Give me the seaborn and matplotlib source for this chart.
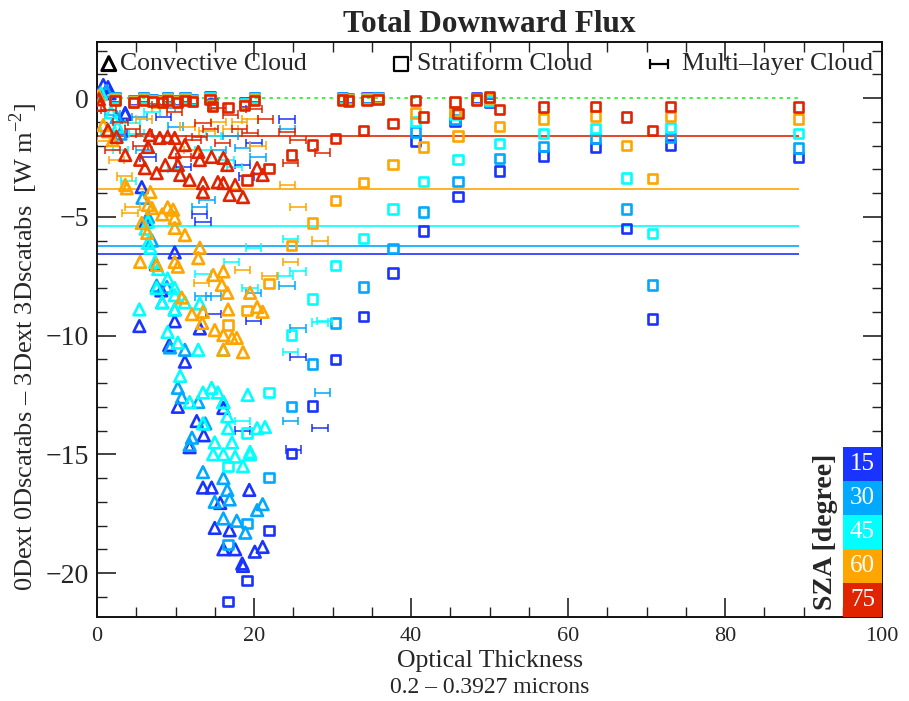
import numpy as np
import pandas as pd
import matplotlib
matplotlib.use("Agg")
import matplotlib.pyplot as plt
from matplotlib.path import Path
from matplotlib.patches import Rectangle
import seaborn as sns

# ---------------- data ----------------
sza_levels = [15, 30, 45, 60, 75]
sza_colors = ['#1a34ff', '#00a8ff', '#00ffff', '#ffa500', '#e02400']
mean_lines = [-6.57, -6.23, -5.39, -3.83, -1.60]   # per SZA
zero_line_end = 89.4

# Convective cloud (triangles)
conv_x_15 = [0.8, 1.6, 3.6, 5.7, 9.9, 5.4, 9.2, 9.9, 11.2, 13.1, 10.3, 16.1, 12.7, 13.6, 11.8, 13.5, 14.6, 15.7, 15.0, 16.9, 19.4, 16.1, 17.6, 20.1, 21.1, 18.5, 18.6, 7.5, 8.2, 6.2, 1.4, 3.6]
conv_y_15 = [0.55, 0.2, -0.63, -3.75, -6.5, -9.6, -10.4, -9.4, -11.1, -9.7, -13.0, -13.05, -13.6, -14.2, -14.7, -16.4, -16.4, -17.05, -18.1, -18.2, -16.5, -19.0, -19.0, -19.1, -18.9, -19.6, -19.7, -7.0, -8.1, -5.2, 0.46, -0.67]
conv_x_30 = [1.2, 2.5, 3.0, 7.6, 8.9, 8.3, 9.9, 9.3, 11.2, 10.3, 10.8, 12.9, 13.8, 16.1, 12.1, 11.8, 13.5, 16.1, 16.6, 15.0, 16.9, 20.4, 21.1, 16.1, 17.8, 18.9, 6.5, 7.0, 5.8]
conv_y_30 = [0.3, -0.8, -1.5, -7.9, -7.95, -8.6, -8.9, -10.5, -10.6, -12.2, -12.6, -12.8, -13.7, -12.8, -14.3, -14.6, -15.75, -16.0, -16.5, -17.0, -16.9, -17.35, -17.1, -17.7, -17.8, -18.3, -5.0, -6.0, -4.2]
conv_x_45 = [0.5, 1.8, 2.6, 6.5, 6.2, 6.5, 6.8, 7.4, 7.8, 9.0, 9.9, 7.6, 5.4, 8.3, 9.9, 11.2, 9.9, 13.1, 9.0, 10.3, 12.9, 16.1, 10.6, 13.5, 14.6, 15.4, 19.2, 11.8, 16.1, 16.6, 16.7, 20.4, 21.4, 13.5, 15.0, 17.2, 19.5, 14.8, 16.1, 17.6, 18.6, 19.5]
conv_y_45 = [0.2, -0.6, -1.2, -5.2, -5.5, -6.1, -6.3, -6.9, -7.2, -7.6, -8.0, -8.0, -8.9, -8.6, -8.3, -8.6, -8.9, -8.65, -9.85, -10.3, -10.6, -10.6, -11.7, -12.4, -12.2, -12.4, -12.5, -12.8, -12.8, -13.4, -13.9, -13.9, -13.85, -13.7, -14.5, -14.5, -14.9, -15.0, -15.0, -15.1, -15.5, -15.0]
conv_x_60 = [0.2, 0.8, 1.4, 2.0, 3.6, 3.8, 6.8, 6.5, 7.0, 9.0, 9.7, 8.3, 9.9, 9.9, 5.7, 6.4, 11.2, 13.1, 12.9, 5.5, 7.6, 9.9, 10.3, 14.8, 16.1, 15.9, 16.6, 19.5, 10.8, 16.7, 20.4, 21.1, 12.1, 13.5, 13.4, 15.0, 16.1, 17.2, 17.8, 18.6, 16.1]
conv_y_60 = [0.1, -1.14, -1.4, -1.77, -3.66, -3.8, -3.96, -4.5, -4.63, -4.6, -4.7, -4.9, -5.05, -5.47, -5.26, -5.68, -5.77, -6.3, -6.74, -6.9, -7.03, -6.9, -7.1, -7.45, -7.3, -7.87, -8.2, -8.2, -8.4, -8.9, -8.8, -9.0, -9.1, -9.0, -9.47, -9.77, -9.98, -10.1, -10.1, -10.7, -10.6]
conv_x_75 = [0.25, 0.4, 1.4, 2.5, 3.6, 5.5, 6.1, 6.75, 6.5, 8.0, 9.0, 9.9, 11.2, 9.9, 8.7, 7.6, 10.3, 10.6, 11.8, 12.9, 13.1, 13.5, 13.5, 14.6, 15.4, 16.1, 16.6, 16.1, 16.9, 17.6, 18.6, 20.4, 21.1]
conv_y_75 = [-0.05, -0.29, -1.35, -1.64, -2.4, -2.6, -2.95, -1.56, -2.06, -1.68, -1.64, -1.68, -1.98, -2.27, -2.82, -3.16, -2.82, -3.24, -3.45, -2.27, -2.61, -3.58, -3.96, -2.48, -3.54, -2.52, -2.82, -3.58, -4.08, -3.66, -4.17, -2.95, -3.24]

# Stratiform cloud (squares): one optical thickness per case, one value per SZA
strat_x = [2.3, 4.6, 5.9, 7.1, 8.3, 9.0, 10.3, 11.2, 12.2, 14.4, 14.7, 18.8, 20.1,
           16.7, 19.1, 21.9, 24.8, 27.5, 30.4, 33.9, 37.7, 41.6, 46.0, 51.3, 56.9, 63.5, 67.5, 70.8, 73.1, 89.4,
           31.3, 32.0, 34.4, 35.8, 40.6, 45.6, 48.3, 50.0]
strat_y_15 = [0.02, -0.1, 0.02, -0.05, -0.1, 0.02, -0.1, 0.02, -0.05, 0.05, -0.25, -0.2, 0.02,
              -21.2, -20.3, -18.2, -14.95, -12.97, -11.0, -9.2, -7.37, -5.6, -4.15, -3.07, -2.44, -2.07, -5.5, -9.3, -1.98, -2.5,
              0.02, -0.02, 0.0, 0.03, -1.81, -1.0, 0.0, -0.2]
strat_y_30 = [0.0, -0.12, 0.0, -0.07, -0.12, 0.0, -0.12, 0.0, -0.07, 0.03, -0.27, -0.22, 0.0,
              -18.8, -17.9, -15.96, -13.0, -11.2, -9.47, -7.96, -6.35, -4.8, -3.5, -2.56, -2.05, -1.7, -4.67, -7.87, -1.65, -2.1,
              0.0, -0.04, -0.02, 0.01, -1.43, -0.9, -0.04, -0.15]
strat_y_45 = [-0.03, -0.15, -0.03, -0.1, -0.15, -0.03, -0.15, -0.03, -0.1, 0.0, -0.3, -0.25, -0.03,
              -15.5, -14.1, -12.4, -9.98, -8.46, -7.05, -5.9, -4.67, -3.5, -2.6, -1.9, -1.48, -1.27, -3.37, -5.7, -1.24, -1.5,
              -0.03, -0.06, -0.04, -0.01, -1.0, -0.7, -0.05, -0.1]
strat_y_60 = [-0.06, -0.17, -0.06, -0.12, -0.17, -0.06, -0.17, -0.06, -0.12, -0.03, -0.32, -0.27, -0.06,
              -9.56, -8.96, -7.8, -6.2, -5.26, -4.3, -3.57, -2.8, -2.06, -1.6, -1.2, -0.88, -0.76, -2.0, -3.4, -0.77, -0.88,
              -0.05, -0.08, -0.06, -0.03, -0.63, -0.58, -0.07, -0.02]
strat_y_75 = [-0.1, -0.2, -0.1, -0.15, -0.2, -0.1, -0.2, -0.1, -0.15, -0.05, -0.35, -0.3, -0.1,
              -0.4, -3.45, -2.95, -2.4, -1.98, -1.7, -1.38, -1.06, -0.8, -0.65, -0.47, -0.38, -0.34, -0.8, -1.38, -0.34, -0.38,
              -0.08, -0.12, -0.1, -0.05, -0.1, -0.17, -0.08, 0.04]

# Multi-layer cloud
ml_x_15 = [2.8, 6.5, 13.1, 13.5, 18.5, 19.0, 20.0, 24.2, 14.8, 19.9, 25.6, 18.5, 28.4, 25.0, 8.5, 11.0]
ml_y_15 = [-1.5, -2.5, -4.9, -5.2, -2.8, -3.3, -1.9, -0.9, -9.1, -9.4, -10.9, -14.0, -13.9, -14.8, -0.8, -2.9]
ml_x_30 = [2.0, 5.4, 13.1, 14.0, 15.5, 17.0, 18.5, 20.5, 24.3, 13.5, 14.8, 19.9, 24.2, 25.6, 28.7, 24.6, 6.0, 10.0, 9.0]
ml_y_30 = [-0.7, -0.8, -4.6, -4.3, -2.2, -1.6, -2.1, -2.5, -1.3, -8.35, -8.35, -8.2, -7.9, -9.7, -12.4, -13.6, -2.2, -1.2, -0.4]
ml_x_45 = [1.5, 3.0, 4.5, 5.0, 7.0, 13.5, 14.8, 16.5, 17.5, 19.9, 24.6, 25.6, 13.5, 17.1, 19.5, 28.4, 24.6, 18.5, 24.0, 29.0, 10.0, 4.0]
ml_y_45 = [-1.4, -2.2, -1.05, -1.5, -0.6, -2.2, -1.6, -2.6, -2.9, -6.3, -5.94, -7.3, -7.4, -6.9, -8.0, -9.45, -10.7, -13.6, -7.5, -9.4, -3.0, -3.5]
ml_x_60 = [1.0, 2.5, 4.2, 4.5, 3.5, 8.0, 11.5, 14.0, 15.5, 17.0, 18.2, 19.5, 24.3, 25.6, 28.4, 24.6, 18.5, 13.3, 20.5, 12.0, 6.0, 22.0]
ml_y_60 = [-1.8, -2.6, -4.84, -4.6, -3.3, -0.4, -1.2, -1.4, -1.0, -1.3, -1.0, -0.9, -3.66, -4.6, -6.0, -6.9, -7.24, -7.8, -2.0, -2.2, -0.9, -7.5]
ml_x_75 = [1.5, 3.0, 4.5, 6.0, 9.9, 13.5, 13.1, 12.3, 15.5, 17.0, 18.2, 19.5, 21.5, 24.2, 25.6, 28.7, 24.6, 2.0, 5.5, 8.0, 16.0, 11.0, 14.5, 20.0]
ml_y_75 = [-0.5, -1.0, -1.3, -1.5, -0.6, -1.05, -1.64, -1.75, -0.4, -0.7, -1.3, -1.47, -0.9, -1.43, -1.77, -2.3, -2.74, -2.2, -2.0, -0.3, -1.9, -2.5, -1.3, -0.45]

conv_x = [conv_x_15, conv_x_30, conv_x_45, conv_x_60, conv_x_75]
conv_y = [conv_y_15, conv_y_30, conv_y_45, conv_y_60, conv_y_75]
strat_y = [strat_y_15, strat_y_30, strat_y_45, strat_y_60, strat_y_75]
ml_x = [ml_x_15, ml_x_30, ml_x_45, ml_x_60, ml_x_75]
ml_y = [ml_y_15, ml_y_30, ml_y_45, ml_y_60, ml_y_75]

# ---------------- style ----------------
sns.set_theme(style="ticks")
SERIF = ['Liberation Serif', 'DejaVu Serif']
plt.rcParams['font.family'] = SERIF
plt.rcParams['mathtext.fontset'] = 'custom'
plt.rcParams['mathtext.rm'] = 'Liberation Serif'

ml_marker = Path([(-1, 0), (1, 0), (-1, -0.55), (-1, 0.55), (1, -0.55), (1, 0.55)],
                 [Path.MOVETO, Path.LINETO, Path.MOVETO, Path.LINETO, Path.MOVETO, Path.LINETO])

fig = plt.figure(figsize=(9.09, 7.01), dpi=100)
ax = fig.add_axes([97/909, 84/701, 785/909, 575/701])

# reference lines
ax.hlines(0, 0, zero_line_end, colors='#22ee22', linestyles=(0, (2, 2.5)), linewidth=1.2, zorder=1)
for c, m in zip(sza_colors, mean_lines):
    ax.hlines(m, 0, zero_line_end, colors=c, linewidth=1.4, alpha=0.85, zorder=1)

for i, (sza, c) in enumerate(zip(sza_levels, sza_colors)):
    sns.scatterplot(x=strat_x, y=strat_y[i], marker='s', s=44, facecolors='none',
                    edgecolor=c, linewidth=1.9, ax=ax, legend=False, zorder=3)
    sns.scatterplot(x=conv_x[i], y=conv_y[i], marker='^', s=70, facecolors='none',
                    edgecolor=c, linewidth=1.9, ax=ax, legend=False, zorder=3)
    sns.scatterplot(x=ml_x[i], y=ml_y[i], marker=ml_marker, s=120, facecolors='none',
                    edgecolor=c, linewidth=1.1, ax=ax, legend=False, zorder=3)

ax.set_xlim(0, 100)
ax.set_ylim(-21.85, 2.36)
ax.set_xticks([0, 20, 40, 60, 80, 100])
ax.set_xticks(np.arange(0, 101, 5), minor=True)
ax.set_yticks([-20, -15, -10, -5, 0])
ax.set_yticks(np.arange(-21, 3, 1), minor=True)
ax.set_yticklabels(['\u221220', '\u221215', '\u221210', '\u22125', '0'])
ax.tick_params(which='both', direction='in', top=True, right=True, color='#222222')
ax.tick_params(which='major', length=14, width=1.2)
ax.tick_params(which='minor', length=7, width=1.0)
ax.tick_params(axis='x', labelsize=16, pad=7)
ax.tick_params(axis='y', labelsize=20, pad=6)
for sp in ax.spines.values():
    sp.set_linewidth(1.4)
    sp.set_color('#111111')

ax.set_xlabel('Optical Thickness', fontsize=18.5, labelpad=3)
ax.text(0.5, -0.122, '0.2 \u2013 0.3927 microns', transform=ax.transAxes, ha='center',
        va='center', fontsize=17)
ax.set_ylabel('0Dext 0Dscatabs \u2013 3Dext 3Dscatabs  [W m$^{-2}$]', fontsize=19)
ax.yaxis.set_label_coords(-0.073, 0.47)
ax.set_title('Total Downward Flux', fontsize=22.5, fontweight='bold', pad=7)

# shape legend inside top of axes
ly = 1.45
sns.scatterplot(x=[1.5], y=[ly], marker='^', s=100, facecolors='none', edgecolor='black',
                linewidth=2.2, ax=ax, legend=False, zorder=4)
ax.text(2.9, ly, 'Convective Cloud', fontsize=18.5, va='center', ha='left')
sns.scatterplot(x=[38.7], y=[ly], marker='s', s=100, facecolors='none', edgecolor='black',
                linewidth=1.6, ax=ax, legend=False, zorder=4)
ax.text(40.8, ly, 'Stratiform Cloud', fontsize=18.5, va='center', ha='left')
sns.scatterplot(x=[71.6], y=[ly], marker=ml_marker, s=170, facecolors='none', edgecolor='black',
                linewidth=1.6, ax=ax, legend=False, zorder=4)
ax.text(74.5, ly, 'Multi\u2013layer Cloud', fontsize=18.5, va='center', ha='left')

# SZA colour legend
bh = 34 / 575
for k, (sza, c) in enumerate(zip(sza_levels, sza_colors)):
    y0 = (4 - k) * bh
    ax.add_patch(Rectangle((0.95, y0), 0.05, bh, transform=ax.transAxes, facecolor=c,
                           edgecolor='none', zorder=5))
    ax.text(0.975, y0 + bh / 2, str(sza), transform=ax.transAxes, ha='center', va='center',
            color='white', fontsize=18, zorder=6)
ax.text(0.928, 2.5 * bh, 'SZA [degree]', transform=ax.transAxes, rotation=90,
        ha='center', va='center', fontsize=20, fontweight='bold', zorder=6)

fig.savefig('out.png', dpi=100)
